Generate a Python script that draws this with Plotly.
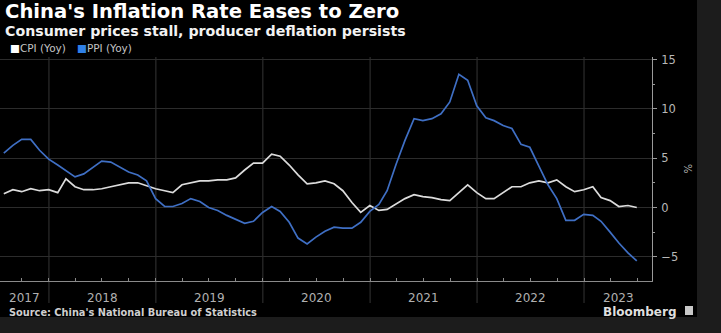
import pandas as pd
import plotly.graph_objects as go

# ---- data (monthly, Jul 2017 - Jun 2023, YoY %) ----
months = pd.date_range("2017-07-31", "2023-06-30", freq="ME")
cpi = [1.4, 1.8, 1.6, 1.9, 1.7, 1.8,
       1.5, 2.9, 2.1, 1.8, 1.8, 1.9, 2.1, 2.3, 2.5, 2.5, 2.2, 1.9,
       1.7, 1.5, 2.3, 2.5, 2.7, 2.7, 2.8, 2.8, 3.0, 3.8, 4.5, 4.5,
       5.4, 5.2, 4.3, 3.3, 2.4, 2.5, 2.7, 2.4, 1.7, 0.5, -0.5, 0.2,
       -0.3, -0.2, 0.4, 0.9, 1.3, 1.1, 1.0, 0.8, 0.7, 1.5, 2.3, 1.5,
       0.9, 0.9, 1.5, 2.1, 2.1, 2.5, 2.7, 2.5, 2.8, 2.1, 1.6, 1.8,
       2.1, 1.0, 0.7, 0.1, 0.2, 0.0]
ppi = [5.5, 6.3, 6.9, 6.9, 5.8, 4.9,
       4.3, 3.7, 3.1, 3.4, 4.1, 4.7, 4.6, 4.1, 3.6, 3.3, 2.7, 0.9,
       0.1, 0.1, 0.4, 0.9, 0.6, 0.0, -0.3, -0.8, -1.2, -1.6, -1.4, -0.5,
       0.1, -0.4, -1.5, -3.1, -3.7, -3.0, -2.4, -2.0, -2.1, -2.1, -1.5, -0.4,
       0.3, 1.7, 4.4, 6.8, 9.0, 8.8, 9.0, 9.5, 10.7, 13.5, 12.9, 10.3,
       9.1, 8.8, 8.3, 8.0, 6.4, 6.1, 4.2, 2.3, 0.9, -1.3, -1.3, -0.7,
       -0.8, -1.4, -2.5, -3.6, -4.6, -5.4]
series_names = ["CPI (Yoy)", "PPI (Yoy)"]
series_colors = ["#dcdcdc", "#3f6fc4"]
legend_colors = ["#ffffff", "#2f80e8"]
years = [2017, 2018, 2019, 2020, 2021, 2022, 2023]
y_ticks = [-5, 0, 5, 10, 15]

title = "China's Inflation Rate Eases to Zero"
subtitle = "Consumer prices stall, producer deflation persists"
source = "Source: China's National Bureau of Statistics"

# ---- layout geometry ----
W, H = 721, 333
ML, MR, MT, MB = 0, 69, 57, 52
PW, PH = W - ML - MR, H - MT - MB
x_range = [pd.Timestamp("2017-07-18"), pd.Timestamp("2023-08-21")]
y_range = [-7.45, 15.25]


def px(x):
    return (x - ML) / PW


def py(y):
    return (H - MB - y) / PH


BG = "#000000"
OUT = "#1c1c1c"
FONT = "DejaVu Sans"

fig = go.Figure()
for name, vals, col in zip(series_names, [cpi, ppi], series_colors):
    fig.add_trace(go.Scatter(x=months, y=vals, mode="lines", name=name,
                             line=dict(color=col, width=1.7), showlegend=False))

quarters = pd.date_range("2017-10-01", "2023-07-01", freq="QS")

fig.update_layout(
    width=W, height=H,
    margin=dict(l=ML, r=MR, t=MT, b=MB),
    paper_bgcolor=BG, plot_bgcolor=BG,
    font=dict(family=FONT, color="#b5b5b5", size=11),
    xaxis=dict(type="date", range=x_range, showgrid=False, zeroline=False,
               showline=True, linecolor="#8a8a8a", linewidth=1,
               tickvals=list(quarters), ticktext=[""] * len(quarters),
               ticks="inside", ticklen=3, tickcolor="#8a8a8a"),
    yaxis=dict(side="right", range=y_range, tickvals=y_ticks,
               showgrid=True, gridcolor="#2c2c2c", gridwidth=1, zeroline=False,
               showline=True, linecolor="#9a9a9a", linewidth=1,
               ticks="outside", ticklen=4, tickcolor="#9a9a9a",
               minor=dict(dtick=2.5, ticks="outside", ticklen=2, tickcolor="#9a9a9a", showgrid=False),
               tickfont=dict(size=11.5, color="#b8b8b8"), ticklabelstandoff=2),
)

shapes = []
# year separators (extend below the axis)
for yr in years[1:]:
    shapes.append(dict(type="line", xref="x", yref="paper",
                       x0=pd.Timestamp(f"{yr}-01-01"), x1=pd.Timestamp(f"{yr}-01-01"),
                       y0=py(303), y1=1, line=dict(color="#353535", width=1), layer="below"))
# outer gray strips
shapes.append(dict(type="rect", xref="paper", yref="paper", x0=px(697), x1=px(W + 2),
                   y0=py(H + 2), y1=py(-2), fillcolor=OUT, line=dict(width=0), layer="above"))
shapes.append(dict(type="rect", xref="paper", yref="paper", x0=px(-2), x1=px(W + 2),
                   y0=py(H + 2), y1=py(317), fillcolor=OUT, line=dict(width=0), layer="above"))
# bloomberg icon
shapes.append(dict(type="rect", xref="paper", yref="paper", x0=px(685), x1=px(693),
                   y0=py(315), y1=py(306), fillcolor="#c8c8c8", line=dict(width=0), layer="above"))
fig.update_layout(shapes=shapes)

ann = []
ann.append(dict(text=f"<b>{title}</b>", x=px(4), y=py(11), xref="paper", yref="paper",
                xanchor="left", yanchor="middle", showarrow=False, borderpad=0,
                font=dict(family=FONT, size=19.6, color="#ffffff")))
ann.append(dict(text=f"<b>{subtitle}</b>", x=px(4), y=py(31.5), xref="paper", yref="paper",
                xanchor="left", yanchor="middle", showarrow=False, borderpad=0,
                font=dict(family=FONT, size=14.2, color="#f2f2f2")))
# legend
leg_x = [8, 75]
for name, col, lx in zip(series_names, legend_colors, leg_x):
    ann.append(dict(text=f"<span style='color:{col}'>■</span>{name}", x=px(lx), y=py(48.5),
                    xref="paper", yref="paper", xanchor="left", yanchor="middle",
                    showarrow=False, font=dict(family=FONT, size=10.5, color="#c4c4c4")))
# year labels centred in each visible year span
for yr in years:
    a = max(pd.Timestamp(f"{yr}-01-01"), x_range[0])
    b = min(pd.Timestamp(f"{yr + 1}-01-01"), x_range[1])
    mid = a + (b - a) / 2
    ann.append(dict(text=str(yr), x=mid, y=py(298), xref="x", yref="paper",
                    xanchor="center", yanchor="middle", showarrow=False,
                    font=dict(family=FONT, size=12, color="#b0b0b0")))
# unit label
ann.append(dict(text="%", x=px(688), y=0.5, xref="paper", yref="paper", textangle=90,
                xanchor="center", yanchor="middle", showarrow=False,
                font=dict(family=FONT, size=10, color="#b8b8b8")))
ann.append(dict(text=f"<b>{source}</b>", x=px(7), y=py(312), xref="paper", yref="paper",
                xanchor="left", yanchor="middle", showarrow=False,
                font=dict(family=FONT, size=9.8, color="#cfcfcf")))
ann.append(dict(text="<b>Bloomberg</b>", x=px(679), y=py(312), xref="paper", yref="paper",
                xanchor="right", yanchor="middle", showarrow=False,
                font=dict(family=FONT, size=12, color="#dedede")))
fig.update_layout(annotations=ann)

fig.write_html("out.html")
